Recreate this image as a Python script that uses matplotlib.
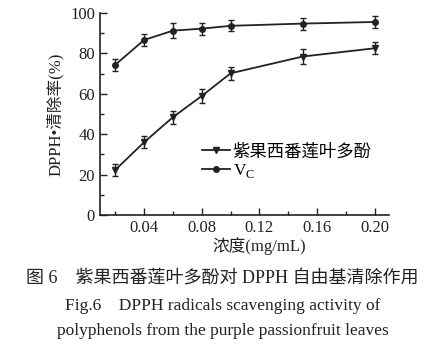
import matplotlib
matplotlib.use("Agg")
import matplotlib.pyplot as plt
from matplotlib.ticker import MultipleLocator
from matplotlib.lines import Line2D

plt.rcParams['font.family'] = ['Liberation Serif', 'Noto Sans CJK SC']
plt.rcParams['mathtext.fontset'] = 'custom'
plt.rcParams['mathtext.rm'] = 'Liberation Serif'

conc = [0.02, 0.04, 0.06, 0.08, 0.10, 0.15, 0.20]
polyphenol = [22.3, 36.0, 48.4, 58.9, 70.1, 78.4, 82.5]
polyphenol_err = [3.0, 3.0, 3.2, 3.5, 3.2, 3.5, 3.0]
vc = [74.3, 86.6, 91.2, 92.2, 93.6, 94.7, 95.5]
vc_err = [3.0, 2.8, 3.8, 3.0, 2.8, 3.0, 3.0]
labels = ['紫果西番莲叶多酚', r'V$_\mathrm{C}$']

fams = ['Liberation Serif', 'Noto Sans CJK SC']

fig = plt.figure(figsize=(4.29, 3.48), dpi=100)
ax = fig.add_axes([0.233, 0.382, 0.674, 0.581])

c = '#222222'
ax.errorbar(conc, polyphenol, yerr=polyphenol_err, color=c, marker='v', markersize=4.5,
            lw=1.3, elinewidth=1.0, capsize=2.5, capthick=1.0)
ax.errorbar(conc, vc, yerr=vc_err, color=c, marker='o', markersize=4,
            lw=1.3, elinewidth=1.0, capsize=2.5, capthick=1.0)

ax.set_xlim(0.0094, 0.21)
ax.set_ylim(0, 100)
ax.xaxis.set_minor_locator(MultipleLocator(0.02))
ax.yaxis.set_major_locator(MultipleLocator(20))
ax.yaxis.set_minor_locator(MultipleLocator(10))
ax.set_xticks([0.04, 0.08, 0.12, 0.16, 0.20])
ax.set_xticklabels(['0.04', '0.08', '0.12', '0.16', '0.20'])
ax.tick_params(which='major', direction='in', length=5, width=1.0, labelsize=12, colors=c)
ax.tick_params(which='minor', direction='in', length=3, width=1.0, colors=c)
for s in ['top', 'right']:
    ax.spines[s].set_visible(False)
for s in ['left', 'bottom']:
    ax.spines[s].set_linewidth(1.2)
    ax.spines[s].set_color(c)

ax.set_ylabel('DPPH•清除率(%)', fontsize=12, color=c, family=fams)
ax.yaxis.set_label_coords(-0.125, 0.5)
ax.set_xlabel('浓度(mg/mL)', fontsize=12, color=c, family=fams)
ax.xaxis.set_label_coords(0.55, -0.11)

handles = [Line2D([], [], color=c, marker='v', markersize=4.5, lw=1.3),
           Line2D([], [], color=c, marker='o', markersize=4, lw=1.3)]
ax.legend(handles, labels, loc='upper left', bbox_to_anchor=(0.33, 0.385), frameon=False,
          handlelength=1.6, handletextpad=0.15, labelspacing=0.1,
          borderaxespad=0, prop={'family': fams, 'size': 12.5})

fig.text(0.518, 0.2, '图 6    紫果西番莲叶多酚对 DPPH 自由基清除作用', ha='center', va='center',
         fontsize=13, color=c, family=fams)
fig.text(0.52, 0.12, 'Fig.6    DPPH radicals scavenging activity of', ha='center', va='center',
         fontsize=12.5, color=c, family='Liberation Serif')
fig.text(0.52, 0.049, 'polyphenols from the purple passionfruit leaves', ha='center', va='center',
         fontsize=12.5, color=c, family='Liberation Serif')

fig.savefig('out.png', dpi=100)
